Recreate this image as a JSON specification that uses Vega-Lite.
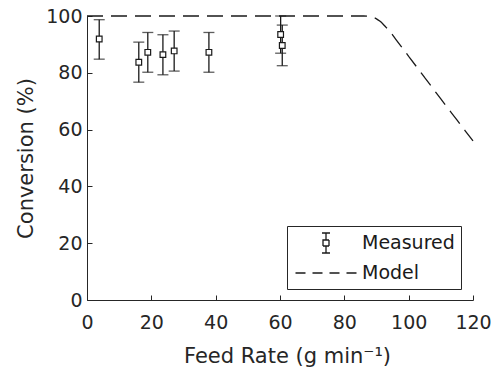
{
  "$schema": "https://vega.github.io/schema/vega-lite/v6.json",
  "width": 386,
  "height": 284,
  "autosize": "none",
  "padding": {"left": 87, "top": 16, "right": 25, "bottom": 70},
  "background": "white",
  "config": {
    "view": {"stroke": null},
    "font": "DejaVu Sans",
    "axis": {
      "domainColor": "#262626",
      "tickColor": "#262626",
      "labelColor": "#262626",
      "titleColor": "#262626",
      "labelFont": "DejaVu Sans",
      "titleFont": "DejaVu Sans",
      "labelFontSize": 19,
      "titleFontSize": 21,
      "titleFontWeight": "normal",
      "grid": false,
      "tickSize": -5,
      "domainWidth": 1,
      "tickWidth": 1
    }
  },
  "datasets": {
    "measured": [
      {"rate": 3.8, "conv": 91.9, "lo": 84.8, "hi": 98.7, "series": "Measured"},
      {"rate": 16.1, "conv": 83.7, "lo": 76.7, "hi": 90.8, "series": "Measured"},
      {"rate": 18.9, "conv": 87.2, "lo": 80.2, "hi": 94.2, "series": "Measured"},
      {"rate": 23.6, "conv": 86.4, "lo": 79.3, "hi": 93.4, "series": "Measured"},
      {"rate": 27.1, "conv": 87.7, "lo": 80.6, "hi": 94.7, "series": "Measured"},
      {"rate": 37.9, "conv": 87.2, "lo": 80.2, "hi": 94.2, "series": "Measured"},
      {"rate": 60.2, "conv": 93.5, "lo": 86.9, "hi": 100.0, "series": "Measured"},
      {"rate": 60.7, "conv": 89.6, "lo": 82.5, "hi": 96.8, "series": "Measured"}
    ],
    "model": [
      {"rate": 0, "conv": 100, "series": "Model"},
      {"rate": 86, "conv": 100, "series": "Model"},
      {"rate": 88, "conv": 99.8, "series": "Model"},
      {"rate": 89, "conv": 99.5, "series": "Model"},
      {"rate": 90, "conv": 99.0, "series": "Model"},
      {"rate": 91, "conv": 98.2, "series": "Model"},
      {"rate": 92, "conv": 97.2, "series": "Model"},
      {"rate": 93, "conv": 96.0, "series": "Model"},
      {"rate": 94, "conv": 94.8, "series": "Model"},
      {"rate": 96, "conv": 91.8, "series": "Model"},
      {"rate": 100, "conv": 85.8, "series": "Model"},
      {"rate": 105, "conv": 78.3, "series": "Model"},
      {"rate": 110, "conv": 70.8, "series": "Model"},
      {"rate": 115, "conv": 63.4, "series": "Model"},
      {"rate": 120, "conv": 56.0, "series": "Model"}
    ]
  },
  "layer": [
    {
      "data": {"name": "model"},
      "mark": {"type": "line", "strokeDash": [16, 8], "strokeWidth": 1.3, "interpolate": "monotone"},
      "encoding": {
        "x": {
          "field": "rate", "type": "quantitative",
          "scale": {"domain": [0, 120], "nice": false},
          "title": "Feed Rate (g min⁻¹)",
          "axis": {"values": [0, 20, 40, 60, 80, 100, 120], "labelPadding": 18, "titlePadding": 13, "labelFlush": false, "titleX": 200}
        },
        "y": {
          "field": "conv", "type": "quantitative",
          "scale": {"domain": [0, 100], "nice": false},
          "title": "Conversion (%)",
          "axis": {"values": [0, 20, 40, 60, 80, 100], "labelPadding": 10, "titlePadding": 9}
        },
        "color": {
          "field": "series", "type": "nominal",
          "scale": {"domain": ["Measured", "Model"], "range": ["#1a1a1a", "#1a1a1a"]},
          "legend": {
            "title": null,
            "orient": "none",
            "legendX": 200,
            "legendY": 210,
            "strokeColor": "#262626",
            "fillColor": "white",
            "padding": 6,
            "rowPadding": 6,
            "symbolSize": 400,
            "symbolOffset": 22,
            "labelOffset": 25,
            "labelFontSize": 19,
            "labelFont": "DejaVu Sans",
            "labelColor": "#1a1a1a",
            "symbolStrokeWidth": 1.3,
            "encode": {
              "symbols": {
                "update": {
                  "shape": {"signal": "datum.value === 'Model' ? 'M-3.05,0L3.05,0' : 'M0,-1L0,-0.3M-0.4,-1L0.4,-1M0,1L0,0.3M-0.4,1L0.4,1M-0.3,-0.3L0.3,-0.3L0.3,0.3L-0.3,0.3Z'"},
                  "strokeDash": {"signal": "datum.value === 'Model' ? [10, 7] : [1, 0]"},
                  "fill": {"value": "white"},
                  "fillOpacity": {"value": 1},
                  "stroke": {"value": "#1a1a1a"}
                }
              }
            }
          }
        }
      }
    },
    {
      "data": {"name": "measured"},
      "mark": {"type": "errorbar", "ticks": {"size": 11, "color": "#1a1a1a", "thickness": 1.3}, "rule": {"color": "#1a1a1a", "strokeWidth": 1.3}},
      "encoding": {
        "x": {"field": "rate", "type": "quantitative", "title": "Feed Rate (g min⁻¹)"},
        "y": {"field": "lo", "type": "quantitative", "title": "Conversion (%)"},
        "y2": {"field": "hi"}
      }
    },
    {
      "data": {"name": "measured"},
      "mark": {"type": "point", "shape": "square", "filled": false, "fill": "white", "fillOpacity": 1, "size": 32, "strokeWidth": 1.2, "opacity": 1},
      "encoding": {
        "x": {"field": "rate", "type": "quantitative", "title": "Feed Rate (g min⁻¹)"},
        "y": {"field": "conv", "type": "quantitative", "title": "Conversion (%)"},
        "color": {"field": "series", "type": "nominal"}
      }
    }
  ]
}
